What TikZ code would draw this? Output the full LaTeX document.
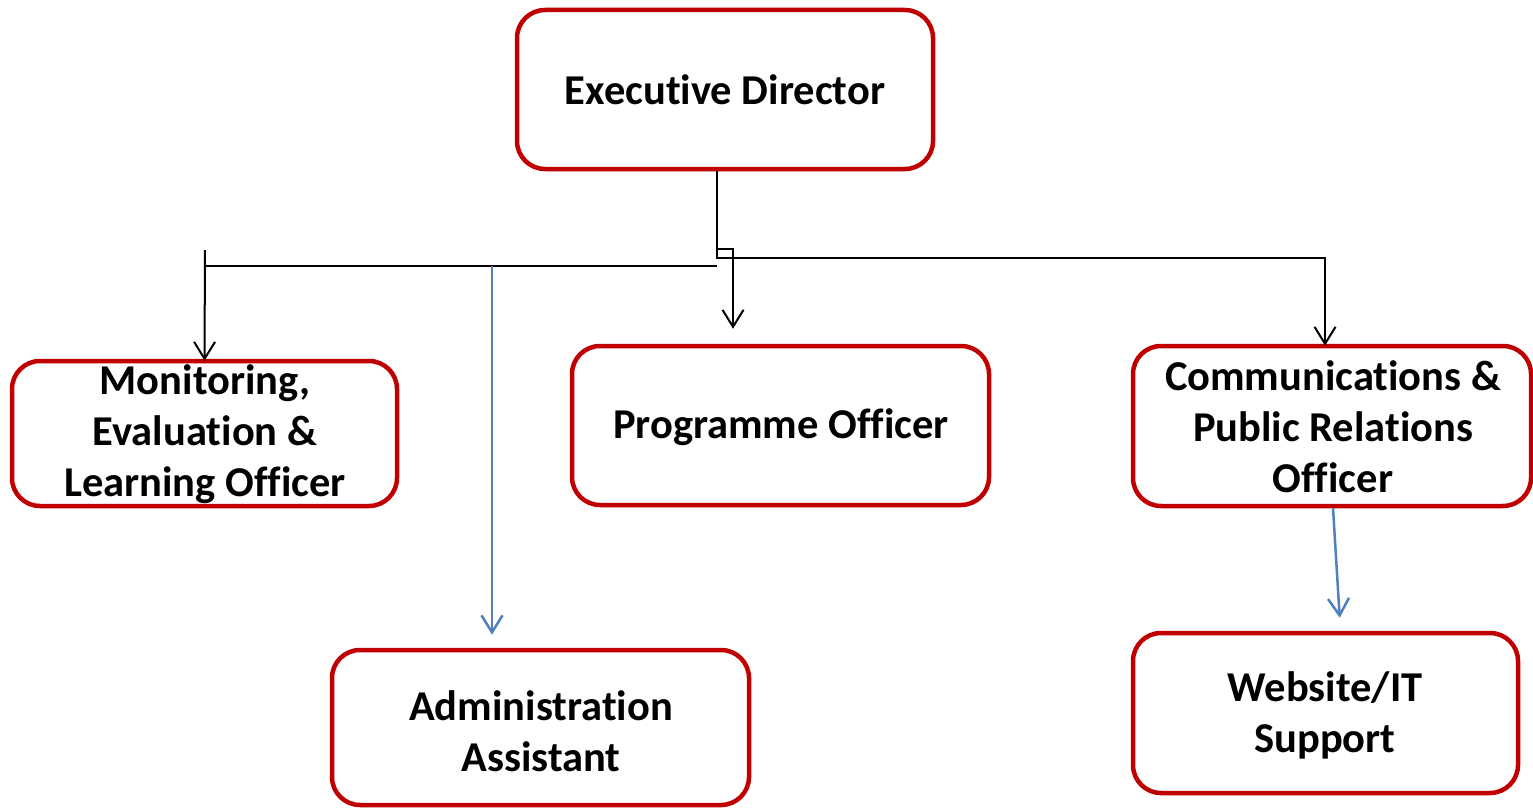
\documentclass[tikz,border=0pt]{standalone}
\usepackage{fontspec}
\setmainfont{Carlito}[Ligatures=NoCommon]
\usetikzlibrary{arrows.meta,calc}
\definecolor{boxred}{HTML}{C00000}
\definecolor{lineblue}{HTML}{4F81BD}
\begin{document}
\begin{tikzpicture}[x=1pt,y=-1pt,
  box/.style={draw=boxred, line width=4.5pt, rounded corners=28pt, inner sep=0pt},
  txt/.style={font=\fontsize{42.5}{51}\selectfont\bfseries, align=center, inner sep=0pt},
  tip/.style={-{Straight Barb[length=17pt,width=21pt]}},
  bk/.style={draw=black, line width=2pt},
  bl/.style={draw=lineblue, line width=2.5pt}]
\useasboundingbox (0,0) rectangle (1533,808);
% boxes
\node[box, minimum width=416pt, minimum height=159pt] (ed)  at (725,89.5) {};
\node[box, minimum width=385pt, minimum height=145pt] (mel) at (204.5,433.5) {};
\node[box, minimum width=417pt, minimum height=159pt] (po)  at (780.5,425.5) {};
\node[box, minimum width=398pt, minimum height=160pt] (cpr) at (1332,426) {};
\node[box, minimum width=417pt, minimum height=155pt] (aa)  at (540.5,727.5) {};
\node[box, minimum width=385pt, minimum height=160pt] (web) at (1325.5,713) {};
% texts
\node[txt] (edt)  at (725,90) {Executive Director};
\node[txt] (melt) at (205,434) {Monitoring,\\Evaluation \&\\Learning Officer};
\node[txt] (pot)  at (781,427) {Programme Officer};
\node[txt] (cprt) at (1333,427) {Communications \&\\Public Relations\\Officer};
\node[txt] (aat)  at (541,731) {Administration\\Assistant};
\node[txt] (webt) at (1325,715) {Website/IT\\Support};
% connectors
\coordinate (e1) at ($(ed.south)+(-8,0)$);
\coordinate (j1) at (717,249);
\coordinate (j2) at (717,258);
\coordinate (busR) at (717,266);
\coordinate (busL) at (205,266);
\coordinate (melTop) at (205,250);
\coordinate (aaTop) at (492,266);
\draw[bk,tip,shorten >=15pt] (e1) -- (j1) -| ($(po.north)+(-47.5,0)$);
\draw[bk,tip,shorten >=-2pt] (e1) -- (j2) -| ($(cpr.north)+(-7,0)$);
\draw[bk] (busR) -- (busL);
\draw[bk,tip,shorten >=-2pt] (melTop) -- (mel.north);
\draw[bl,tip,shorten >=13pt] (aaTop) -- ($(aa.north)+(-48.5,0)$);
\draw[bl,tip,shorten >=13pt] ($(cpr.south)+(1,0)$) -- ($(web.north)+(15,0)$);
\end{tikzpicture}
\end{document}
